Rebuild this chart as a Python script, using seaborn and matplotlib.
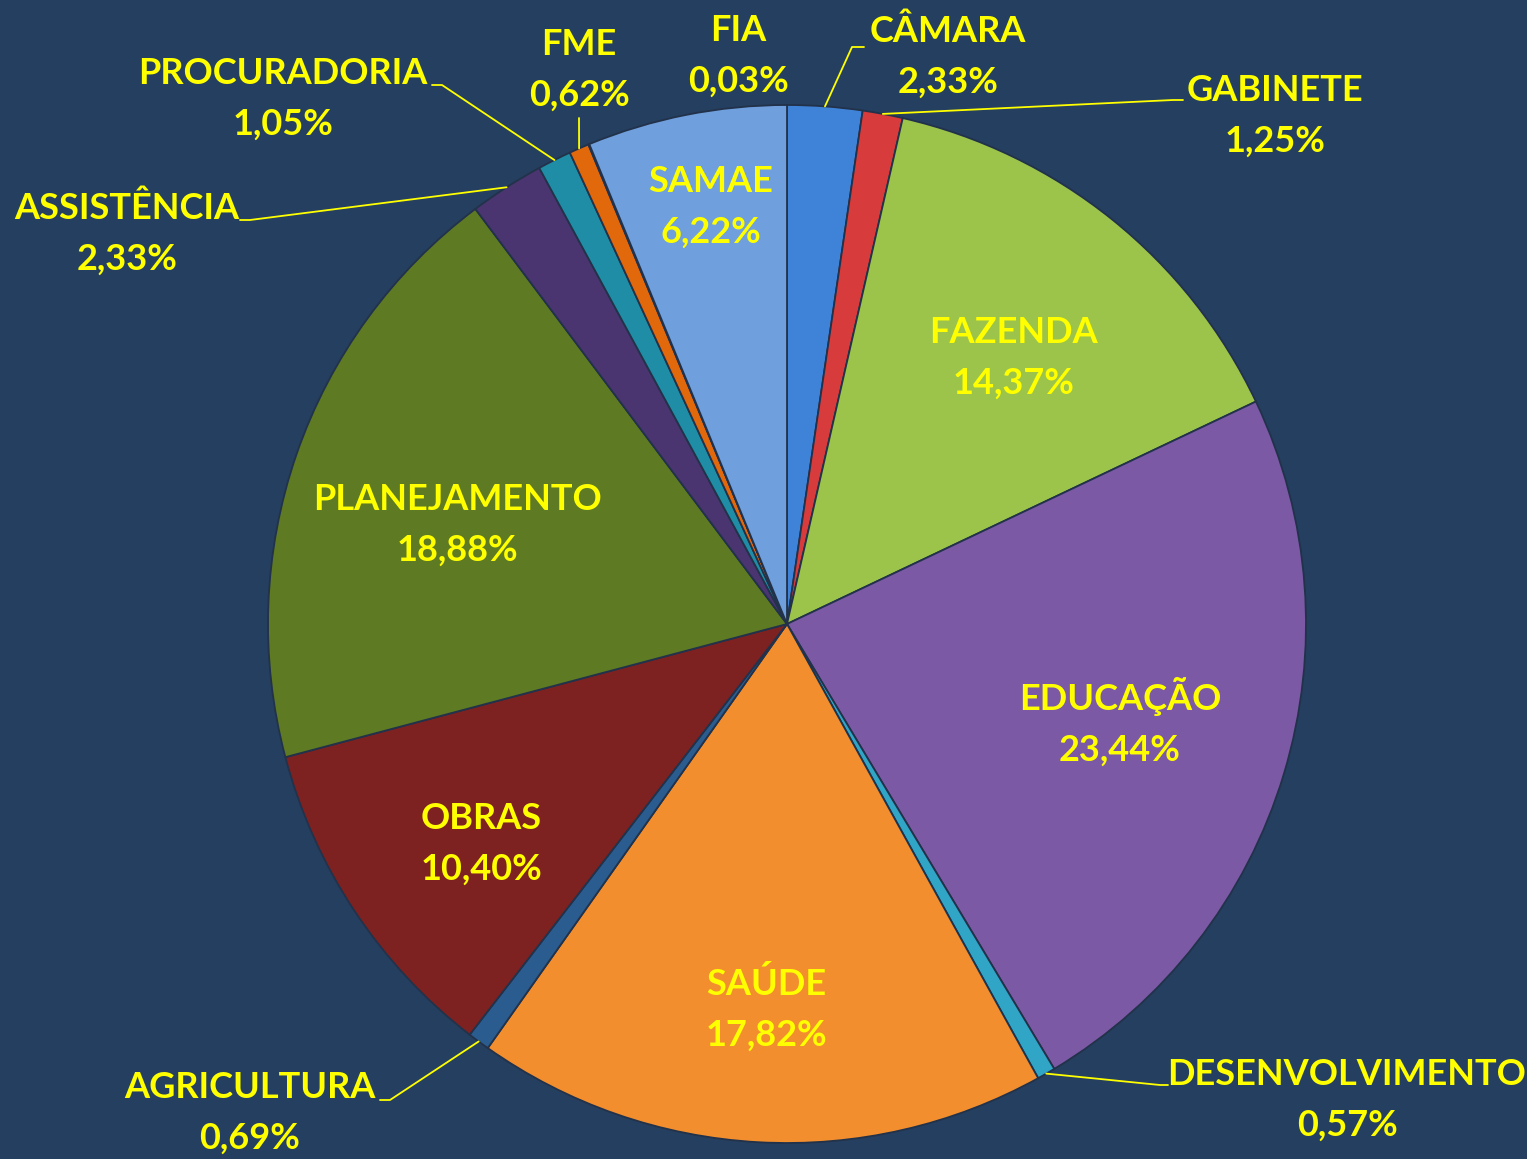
import numpy as np
import seaborn as sns
import matplotlib.pyplot as plt

# Data (percent of budget)
departments = ['CÂMARA', 'GABINETE', 'FAZENDA', 'EDUCAÇÃO', 'DESENVOLVIMENTO',
               'SAÚDE', 'AGRICULTURA', 'OBRAS', 'PLANEJAMENTO', 'ASSISTÊNCIA',
               'PROCURADORIA', 'FME', 'FIA', 'SAMAE']
shares = [2.33, 1.25, 14.37, 23.44, 0.57, 17.82, 0.69, 10.40, 18.88, 2.33,
          1.05, 0.62, 0.03, 6.22]
share_labels = ['2,33%', '1,25%', '14,37%', '23,44%', '0,57%', '17,82%', '0,69%',
                '10,40%', '18,88%', '2,33%', '1,05%', '0,62%', '0,03%', '6,22%']

colors = ['#3F83D8', '#D83B3B', '#9CC44A', '#7B59A5', '#31A5C6', '#F28E2E',
          '#2B5C8F', '#7E2121', '#5E7A23', '#4B3570', '#1F8DA6', '#E2680C',
          '#1F3A5F', '#6F9FDC']

bg = '#253F60'
yellow = '#FFFF00'

sns.set_style('white')
plt.rcParams['font.family'] = ['Lato', 'DejaVu Sans']

W, H = 1527, 1159
CX, CY, R = 787, 624, 519   # pie centre and radius in pixels


def px(x, y):
    # pixel position -> data position
    return (x - CX) / R, (CY - y) / R


fig = plt.figure(figsize=(W / 100, H / 100), dpi=100, facecolor=bg)
ax = fig.add_axes([0, 0, 1, 1])
ax.set_facecolor(bg)

wedges, _ = ax.pie(shares, colors=colors, startangle=90, counterclock=False,
                   radius=1, wedgeprops=dict(edgecolor='#22324a', linewidth=1.3))

x0, y1 = px(0, 0)
x1, y0 = px(W, H)
ax.set_xlim(x0, x1)
ax.set_ylim(y0, y1)
ax.set_aspect('equal')
ax.axis('off')

# mid angle of every wedge
mids = {}
for name, w in zip(departments, wedges):
    mids[name] = np.deg2rad((w.theta1 + w.theta2) / 2)

fs = 26
ls = 1.65

# labels inside the pie: radial distance + small nudge in pixels
inside = {'FAZENDA': (0.675, 7, 7), 'EDUCAÇÃO': (0.67, 0, -3),
          'SAÚDE': (0.74, 0, 2), 'OBRAS': (0.73, 10, 10),
          'PLANEJAMENTO': (0.665, -3, 14), 'SAMAE': (0.815, 6, -2)}
# labels outside the pie: text centre and leader elbow/end (pixels)
outside = {
    'CÂMARA': ((948, 57), [(852, 47), (864, 47)]),
    'GABINETE': ((1275, 116), [(1173, 100), (1183, 100)]),
    'DESENVOLVIMENTO': ((1347, 1100), [(1160, 1085), (1168, 1085)]),
    'AGRICULTURA': ((250, 1113), [(390, 1100), (380, 1100)]),
    'ASSISTÊNCIA': ((127, 234), [(250, 220), (240, 220)]),
    'PROCURADORIA': ((283, 99), [(442, 85), (432, 85)]),
    'FME': ((579, 70), [(579, 118)]),
    'FIA': ((738, 56), []),
}

for name, pct in zip(departments, share_labels):
    a = mids[name]
    text = f'{name}\n{pct}'
    if name in inside:
        d, nx, ny = inside[name]
        pos = (d * np.cos(a) + nx / R, d * np.sin(a) - ny / R)
    else:
        (tx, ty), pts = outside[name]
        pos = px(tx, ty)
        if pts:
            line = [(np.cos(a), np.sin(a))] + [px(*p) for p in pts]
            xs, ys = zip(*line)
            ax.plot(xs, ys, color=yellow, lw=1.3)
    ax.text(*pos, text, ha='center', va='center', color=yellow,
            fontsize=fs, fontweight='bold', linespacing=ls)

fig.savefig('out.png', dpi=100, facecolor=bg)
